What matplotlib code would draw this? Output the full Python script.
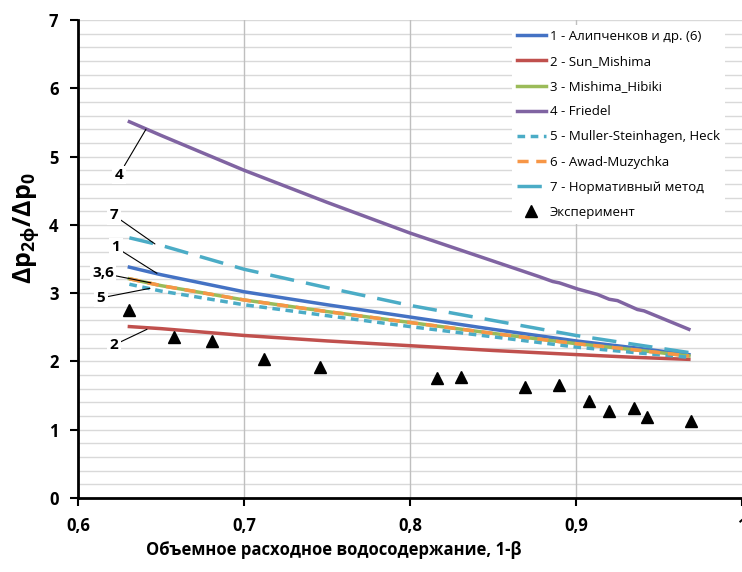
import numpy as np
import matplotlib
matplotlib.use('Agg')
import matplotlib.pyplot as plt

plt.rcParams['font.family'] = ['Open Sans', 'DejaVu Sans']
plt.rcParams['mathtext.fontset'] = 'custom'
plt.rcParams['mathtext.rm'] = 'Open Sans'
plt.rcParams['mathtext.bf'] = 'Open Sans:bold'

# calculated curves
x_calc = [0.631, 0.65, 0.70, 0.75, 0.80, 0.85, 0.90, 0.935, 0.968]
alipchenkov = [3.38, 3.27, 3.02, 2.83, 2.65, 2.47, 2.30, 2.20, 2.10]
sun_mishima = [2.51, 2.48, 2.38, 2.30, 2.23, 2.16, 2.10, 2.06, 2.03]
mishima_hibiki = [3.21, 3.11, 2.90, 2.73, 2.57, 2.41, 2.26, 2.17, 2.08]
muller = [3.13, 3.03, 2.83, 2.67, 2.51, 2.36, 2.21, 2.13, 2.06]
awad = [3.21, 3.11, 2.90, 2.73, 2.57, 2.41, 2.26, 2.17, 2.08]
normative = [3.81, 3.70, 3.35, 3.08, 2.82, 2.60, 2.38, 2.25, 2.13]

# Friedel has a few small bumps, so it gets its own x grid
x_friedel = [0.631, 0.65, 0.70, 0.75, 0.80, 0.85, 0.878, 0.886, 0.890, 0.901,
             0.913, 0.920, 0.925, 0.937, 0.941, 0.968]
friedel = [5.51, 5.31, 4.80, 4.33, 3.88, 3.47, 3.24, 3.17, 3.15, 3.06,
           2.98, 2.91, 2.89, 2.76, 2.74, 2.47]

# experiment
x_exp = [0.631, 0.658, 0.681, 0.712, 0.746, 0.816, 0.831, 0.869, 0.890,
         0.908, 0.920, 0.935, 0.943, 0.969]
y_exp = [2.75, 2.36, 2.30, 2.03, 1.92, 1.76, 1.77, 1.62, 1.65,
         1.42, 1.28, 1.32, 1.18, 1.13]

x_ticks = [0.6, 0.7, 0.8, 0.9, 1.0]
x_tick_labels = ['0,6', '0,7', '0,8', '0,9', '1']
y_ticks = [0, 1, 2, 3, 4, 5, 6, 7]

fig = plt.figure(figsize=(7.42, 5.72), dpi=100)
ax = fig.add_axes([0.105, 0.1294, 0.895, 0.8357])

# gridlines
for yv in np.arange(0.2, 7.01, 0.2):
   ax.axhline(yv, color='#d9d9d9', lw=1.0, zorder=0)
for xv in [0.7, 0.8, 0.9]:
   ax.axvline(xv, color='#bfbfbf', lw=1.0, zorder=0)

lw = 2.5
ax.plot(x_calc, alipchenkov, color='#4472c4', lw=lw, label='1 - Алипченков и др. (6)')
ax.plot(x_calc, sun_mishima, color='#c0504d', lw=lw, label='2 - Sun_Mishima')
ax.plot(x_calc, mishima_hibiki, color='#9bbb59', lw=lw, label='3 - Mishima_Hibiki')
ax.plot(x_friedel, friedel, color='#8064a2', lw=lw, label='4 - Friedel')
ax.plot(x_calc, muller, color='#4bacc6', lw=lw, dashes=(2.2, 1.6),
        label='5 - Muller-Steinhagen, Heck')
ax.plot(x_calc, awad, color='#f79646', lw=lw, dashes=(3.2, 2.2), label='6 - Awad-Muzychka')
ax.plot(x_calc, normative, color='#4bacc6', lw=lw, dashes=(7, 3.5), label='7 - Нормативный метод')
ax.plot(x_exp, y_exp, linestyle='none', marker='^', color='black', markersize=8,
        label='Эксперимент')

# curve numbers
notes = [('4', (0.6247, 4.73), (0.641, 5.40)),
         ('7', (0.6217, 4.14), (0.6464, 3.72)),
         ('1', (0.6229, 3.67), (0.6476, 3.29)),
         ('3,6', (0.6151, 3.29), (0.644, 3.15)),
         ('5', (0.6139, 2.93), (0.6434, 3.07)),
         ('2', (0.6217, 2.24), (0.6416, 2.47))]
for txt, xy_text, xy in notes:
   ax.annotate(txt, xy=xy, xytext=xy_text, ha='center', va='center',
               fontsize=11, fontweight='bold',
               bbox=dict(boxstyle='square,pad=0.15', fc='white', ec='none'),
               arrowprops=dict(arrowstyle='-', color='black', lw=0.8,
                               shrinkA=0, shrinkB=0))

ax.set_xlim(0.6, 1.0)
ax.set_ylim(0, 7)
ax.set_xticks(x_ticks)
ax.set_xticklabels(x_tick_labels)
ax.set_yticks(y_ticks)
ax.tick_params(axis='both', direction='out', length=6, width=1.5, labelsize=12, pad=8)
for lab in ax.get_xticklabels() + ax.get_yticklabels():
   lab.set_fontweight('bold')

for side in ['top', 'right']:
   ax.spines[side].set_visible(False)
for side in ['left', 'bottom']:
   ax.spines[side].set_linewidth(2)
   ax.spines[side].set_color('black')

ax.set_xlabel('Объемное расходное водосодержание, 1-β', fontsize=12, fontweight='bold')
ax.xaxis.set_label_coords(0.386, -0.09)
ax.set_ylabel(r'$\mathbf{Δp_{2ф}/Δp_{0}}$', fontsize=18)
ax.yaxis.set_label_coords(-0.055, 0.565)

leg = ax.legend(loc='upper left', bbox_to_anchor=(0.643, 1.004), fontsize=9.5,
                frameon=True, fancybox=False, edgecolor='none', framealpha=1,
                handlelength=2.2, handletextpad=0.3, labelspacing=0.92, borderpad=0.4)

fig.savefig('out.png', dpi=100)
